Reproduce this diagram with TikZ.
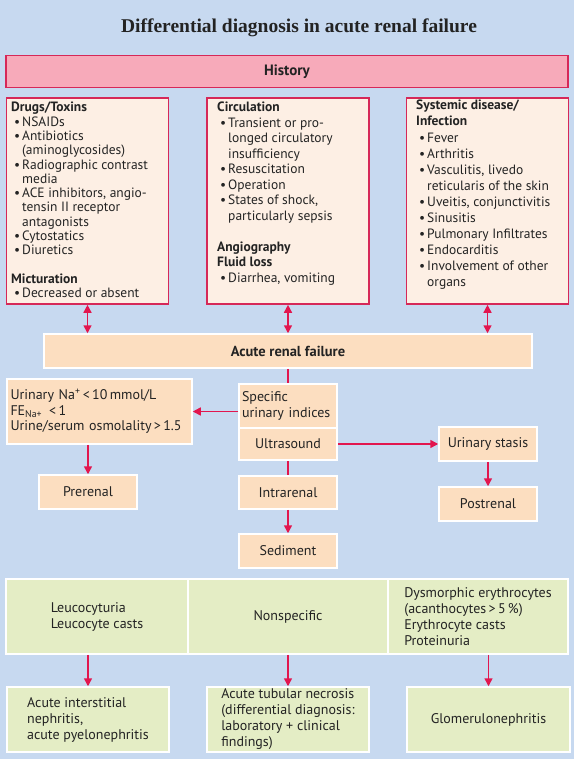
\documentclass[tikz,border=0pt]{standalone}
\usepackage{fontspec}
\setmainfont{PT Sans}
\newfontfamily\titlefont{Liberation Serif}
\usetikzlibrary{arrows.meta}
\definecolor{bgblue}{RGB}{199,217,240}
\definecolor{pinkfill}{RGB}{247,170,186}
\definecolor{crimson}{RGB}{214,40,88}
\definecolor{lightpeach}{RGB}{253,239,228}
\definecolor{peach}{RGB}{252,222,192}
\definecolor{lgreen}{RGB}{228,237,197}
\definecolor{arrowred}{RGB}{226,22,78}
\definecolor{txt}{RGB}{35,35,35}
\newcommand\bl{\hspace*{3pt}\makebox[8pt][l]{\textbullet}}
\newcommand\ct{\hspace*{11pt}}
\begin{document}
\begin{tikzpicture}[x=1pt,y=-1pt,
  every node/.style={text=txt},
  redbox/.style={draw=crimson, line width=1.6pt, fill=lightpeach, inner sep=0pt},
  histbox/.style={draw=crimson, line width=1.6pt, fill=pinkfill, inner sep=0pt, font=\fontsize{15}{17}\selectfont\bfseries},
  pbox/.style={draw=white, line width=1.5pt, fill=peach, inner sep=0pt, align=left, font=\fontsize{14}{15.5}\selectfont},
  gbox/.style={draw=white, line width=1.5pt, fill=lgreen, inner sep=0pt, align=left, font=\fontsize{14}{16}\selectfont},
  listtxt/.style={anchor=north west, inner sep=0pt, align=left},
  arr/.style={draw=arrowred, line width=1.5pt, -{Triangle[length=8pt,width=8pt]}},
  darr/.style={draw=arrowred, line width=1.5pt, {Triangle[length=8pt,width=8pt]}-{Triangle[length=8pt,width=8pt]}},
  ln/.style={draw=arrowred, line width=1.5pt}]
\fill[bgblue] (0,0) rectangle (574,759);
\useasboundingbox (0,0) rectangle (574,759);

% title
\node[font=\titlefont\fontsize{19.5}{21}\selectfont\bfseries] (title) at (299,28) {Differential diagnosis in acute renal failure};

% history
\node[histbox, minimum width=562pt, minimum height=32pt] (hist) at (287,71.5) {History};

% top boxes
\node[redbox, minimum width=162pt, minimum height=206pt] (drugs) at (87.5,201) {};
\node[redbox, minimum width=162pt, minimum height=206pt] (circ) at (288,201) {};
\node[redbox, minimum width=162pt, minimum height=206pt] (sys) at (487.5,201) {};

\node[listtxt, font=\fontsize{13.5}{14.3}\selectfont] (drugsT) at (11,102) {%
\textbf{Drugs/Toxins}\\
\bl NSAIDs\\
\bl Antibiotics\\
\ct (aminoglycosides)\\
\bl Radiographic contrast\\
\ct media\\
\bl ACE inhibitors, angio-\\
\ct tensin II receptor\\
\ct antagonists\\
\bl Cytostatics\\
\bl Diuretics\\
\mbox{}\\
\textbf{Micturation}\\
\bl Decreased or absent};

\node[listtxt, font=\fontsize{13.5}{15.5}\selectfont] (circT) at (217,102) {%
\textbf{Circulation}\\
\bl Transient or pro-\\
\ct longed circulatory\\
\ct insufficiency\\
\bl Resuscitation\\
\bl Operation\\
\bl States of shock,\\
\ct particularly sepsis\\
\mbox{}\\
\textbf{Angiography}\\
\textbf{Fluid loss}\\
\bl Diarrhea, vomiting};

\node[listtxt, font=\fontsize{13.5}{16.1}\selectfont] (sysT) at (416,100) {%
\textbf{Systemic disease/}\\
\textbf{Infection}\\
\bl Fever\\
\bl Arthritis\\
\bl Vasculitis, livedo\\
\ct reticularis of the skin\\
\bl Uveitis, conjunctivitis\\
\bl Sinusitis\\
\bl Pulmonary Infiltrates\\
\bl Endocarditis\\
\bl Involvement of other\\
\ct organs};

% acute renal failure
\node[pbox, minimum width=488pt, minimum height=34pt, font=\fontsize{14.5}{16}\selectfont\bfseries] (arf) at (288,351) {Acute renal failure};

\draw[darr] (drugs.south) -- (drugs.south |- arf.north);
\draw[darr] (circ.south) -- (circ.south |- arf.north);
\draw[darr] (sys.south) -- (sys.south |- arf.north);

% middle section
\node[pbox, minimum width=185pt, minimum height=65pt, text width=178pt] (na) at (99.5,411.5) {%
Urinary Na\textsuperscript{+}\,<\,10\,mmol/L\\
FE\textsubscript{Na+} \,<\,1\\
Urine/serum osmolality\,>\,1.5};
\node[pbox, minimum width=98pt, minimum height=44pt, text width=92pt] (spec) at (288,406) {Specific\\urinary indices};
\node[pbox, minimum width=98pt, minimum height=32pt, align=center] (us) at (288,444) {Ultrasound};
\node[pbox, minimum width=98pt, minimum height=34pt, align=center] (stasis) at (488,444) {Urinary stasis};
\node[pbox, minimum width=98pt, minimum height=34pt, align=center] (pre) at (88,492) {Prerenal};
\node[pbox, minimum width=98pt, minimum height=33pt, align=center] (intra) at (288,492.5) {Intrarenal};
\node[pbox, minimum width=98pt, minimum height=34pt, align=center] (post) at (488,504) {Postrenal};
\node[pbox, minimum width=98pt, minimum height=34pt, align=center] (sed) at (288,551) {Sediment};

\draw[ln] (arf.south) -- (spec.north);
\draw[arr] (na.east -| spec.west) -- (na.east);
\draw[arr] (us.east) -- (stasis.west);
\draw[arr] (stasis.south) -- (post.north);
\draw[arr] (pre.north |- na.south) -- (pre.north);
\draw[ln] (us.south) -- (intra.north);
\draw[arr] (intra.south) -- (sed.north);

% green row
\node[gbox, minimum width=182pt, minimum height=75pt] (g1) at (97,616.5) {Leucocyturia\\Leucocyte casts};
\node[gbox, minimum width=200pt, minimum height=75pt, align=center] (g2) at (288,616.5) {Nonspecific};
\node[gbox, minimum width=180pt, minimum height=75pt] (g3) at (478,616.5) {Dysmorphic erythrocytes\\(acanthocytes\,>\,5\,\%)\\Erythrocyte casts\\Proteinuria};

% bottom boxes
\node[gbox, minimum width=162pt, minimum height=65pt] (b1) at (88,719.5) {Acute interstitial\\nephritis,\\acute pyelonephritis};
\node[gbox, minimum width=162pt, minimum height=65pt] (b2) at (288,719.5) {Acute tubular necrosis\\(differential diagnosis:\\laboratory + clinical\\findings)};
\node[gbox, minimum width=163pt, minimum height=65pt, align=center] (b3) at (488.5,719.5) {Glomerulonephritis};

\draw[arr] (b1.north |- g1.south) -- (b1.north);
\draw[arr] (b2.north |- g2.south) -- (b2.north);
\draw[arr] (b3.north |- g3.south) -- (b3.north);
\end{tikzpicture}
\end{document}
